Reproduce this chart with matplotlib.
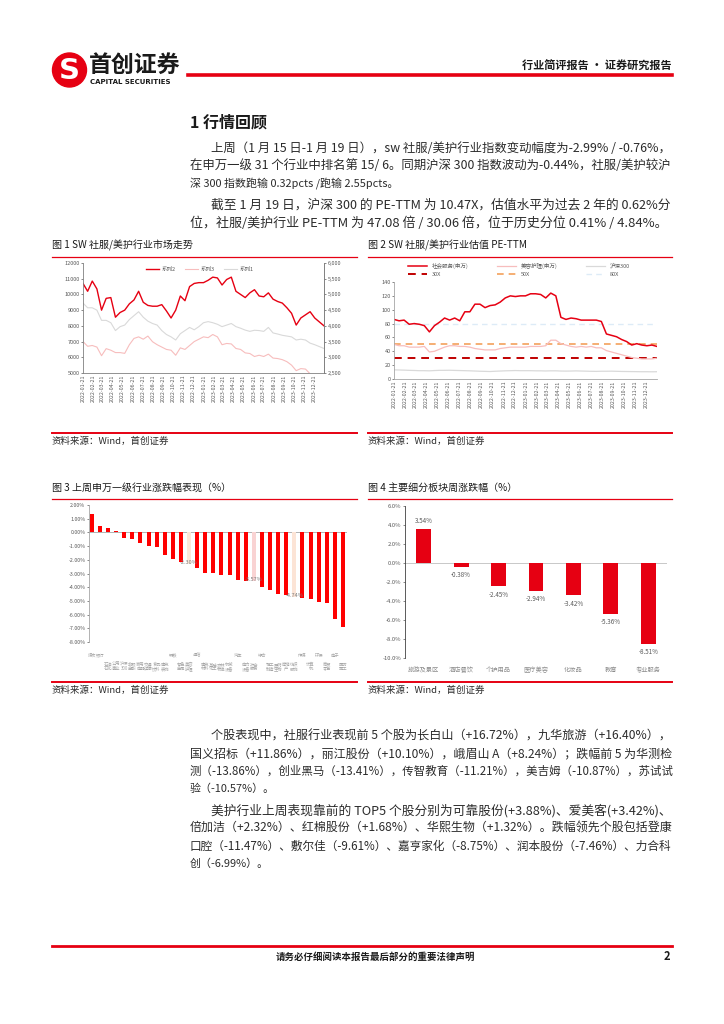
import numpy as np
import pandas as pd
import matplotlib
matplotlib.use('Agg')
import matplotlib.pyplot as plt
from matplotlib.lines import Line2D
from matplotlib.patches import Ellipse
from matplotlib.ticker import FuncFormatter

plt.rcParams['font.family'] = ['Noto Sans CJK SC', 'DejaVu Sans']
plt.rcParams['axes.unicode_minus'] = False

# ---------------- data ----------------
# fig 1: index trend, biweekly readings 2022-01-21 .. 2024-01-19
idx_s2 = [10700, 10200, 10850, 10350, 9000, 9750, 9800, 8550, 8850, 9000,
          9400, 9650, 10200, 9500, 9300, 9250, 9250, 9350, 8950, 8500,
          9000, 9900, 9600, 10500, 10700, 10750, 10750, 10900, 11100, 11050,
          10600, 10950, 11100, 10200, 10000, 9800, 10100, 10300, 9900, 9850,
          10100, 9700, 9550, 9450, 9150, 8800, 8050, 8500, 8700, 8900,
          8500, 8250, 8000]
idx_s1 = [9450, 9150, 9150, 9000, 8350, 8350, 8200, 7700, 7950, 8050,
          8400, 8650, 8900, 8550, 8300, 8150, 8050, 7700, 7450, 7300,
          7100, 7500, 7700, 7900, 7750, 7950, 8200, 8270, 8200, 8100,
          7950, 8050, 8150, 7950, 7850, 7730, 7650, 7720, 7700, 7650,
          7900, 7550, 7480, 7400, 7350, 7300, 7100, 7150, 7100, 6900,
          6800, 6680, 6560]
idx_s3 = [7000, 6700, 6750, 6650, 6100, 6550, 6450, 6300, 6300, 6250,
          6800, 7200, 7300, 7150, 7350, 6990, 6800, 6650, 6500, 6450,
          6130, 6600, 6500, 6750, 7000, 7150, 7300, 7250, 7450, 7300,
          6800, 6880, 6850, 6560, 6500, 6280, 6240, 6050, 6130, 6050,
          6200, 5950, 5920, 5850, 5720, 5500, 5150, 5280, 5250, 4950,
          4700, 4530, 4420]

# fig 2: PE-TTM
pe_svc = [86, 84, 85, 79, 80, 79, 77, 68, 77, 82,
          88, 85, 88, 84, 97, 97, 108, 108, 103, 106,
          107, 111, 117, 120, 119, 120, 120, 123, 123, 122,
          117, 124, 120, 89, 86, 88, 87, 85, 85, 85,
          85, 83, 65, 63, 61, 57, 54, 49, 51, 49,
          48, 49, 47]
pe_beauty = [50, 48, 48, 46, 46, 46, 47, 39, 40, 43,
             46, 48, 48, 47, 47, 46, 44, 43, 42, 42,
             42, 44, 45, 46, 46, 46, 46, 47, 47, 47,
             48, 56, 56, 51, 49, 47, 46, 47, 46, 47,
             45, 45, 41, 39, 37, 35, 33, 31, 30, 29,
             29, 29, 30]
pe_hs300 = [13.2, 13.0, 12.8, 12.5, 12.3, 12.0, 12.0, 11.8, 12.2, 12.5,
            12.5, 12.6, 12.4, 12.2, 12.0, 11.8, 11.5, 11.2, 11.0, 10.8,
            11.2, 11.5, 11.8, 12.0, 12.2, 12.0, 12.0, 12.0, 11.8, 11.8,
            11.6, 11.8, 11.8, 11.5, 11.4, 11.5, 11.7, 11.5, 11.3, 11.1,
            11.0, 11.2, 11.2, 11.3, 11.1, 10.9, 10.8, 10.7, 10.6, 10.5,
            10.5, 10.4, 10.5]
pe_levels = [30, 50, 80]
pe_level_labels = ['30X', '50X', '80X']

# fig 3: SW level-1 industries weekly change (%)
ind_names = ['煤炭', '银行', '石油石化', '公用事业', '沪深300', '非银金融', '家用电器',
             '交通运输', '食品饮料', '建筑装饰', '钢铁', '有色金属', '美容护理', '通信',
             '建筑材料', '基础化工', '农林牧渔', '机械设备', '汽车', '电力设备', '社会服务',
             '综合', '轻工制造', '医药生物', '房地产', '纺织服饰', '传媒', '计算机',
             '环保', '商贸零售', '电子', '国防军工']
ind_chg = [1.34, 0.44, 0.29, 0.07, -0.44, -0.51, -0.78, -1.02, -1.07, -1.63,
           -1.95, -2.17, -2.30, -2.59, -2.98, -2.98, -3.12, -3.12, -3.44, -3.54,
           -3.57, -3.98, -4.24, -4.51, -4.54, -4.74, -4.80, -4.85, -5.10, -5.12,
           -6.34, -6.88]
ind_marked = ['美容护理', '社会服务', '纺织服饰']

# fig 4: sub-sector weekly change (%)
sub_names = ['旅游及景区', '酒店餐饮', '个护用品', '医疗美容', '化妆品', '教育', '专业服务']
sub_chg = [3.54, -0.38, -2.45, -2.94, -3.42, -5.36, -8.51]

# ---------------- page ----------------
W, H = 724, 1024
RED = '#E60012'
TXT = '#2b2b2b'
TICK = '#595959'

fig = plt.figure(figsize=(W / 100, H / 100), dpi=100)
renderer = fig.canvas.get_renderer()


def rect(x0, y0, x1, y1):
    return [x0 / W, 1 - y1 / H, (x1 - x0) / W, (y1 - y0) / H]


def put(x, y, s, **kw):
    kw.setdefault('va', 'center')
    return fig.text(x / W, 1 - y / H, s, **kw)


def hline(x0, x1, y, color=RED, lw=1.0):
    fig.add_artist(Line2D([x0 / W, x1 / W], [1 - y / H, 1 - y / H], color=color, lw=lw))


def body(x0, y, s, x1=None, size=7.9):
    # stretch justified lines to the right margin
    t = put(x0, y, s, fontsize=size, color=TXT)
    if x1 is not None:
        w = t.get_window_extent(renderer).width
        t.set_fontsize(size * (x1 - x0) / w)
    return t


# header
fig.add_artist(Ellipse((69.5 / W, 1 - 70 / H), 34 / W, 34 / H, color=RED))
put(69.5, 71, 'S', ha='center', color='white', fontsize=21, fontweight='bold', family='DejaVu Sans')
put(89, 65, '首创证券', ha='left', fontsize=16.5, fontweight='bold', color='#1a1a1a')
put(90, 82, 'CAPITAL SECURITIES', ha='left', fontsize=5, fontweight='bold', color='#1a1a1a',
    family='DejaVu Sans')
hline(188, 672, 75, RED, 2.6)
put(672, 66, '行业简评报告 · 证券研究报告', ha='right', fontsize=8, fontweight='bold', color='#1a1a1a')

# section text
put(190, 122, '1 行情回顾', ha='left', fontsize=11.5, fontweight='bold', color='#1a1a1a')
IND = 211
body(IND, 148, '上周（1 月 15 日-1 月 19 日），sw 社服/美护行业指数变动幅度为-2.99% / -0.76%，', 672)
body(190, 165.5, '在申万一级 31 个行业中排名第 15/ 6。同期沪深 300 指数波动为-0.44%，社服/美护较沪', 672)
body(190, 183, '深 300 指数跑输 0.32pcts /跑输 2.55pcts。')
body(IND, 205.5, '截至 1 月 19 日，沪深 300 的 PE-TTM 为 10.47X，估值水平为过去 2 年的 0.62%分', 672)
body(190, 223, '位，社服/美护行业 PE-TTM 为 47.08 倍 / 30.06 倍，位于历史分位 0.41% / 4.84%。', 668)

# figure frames
for x0, x1, title in [(52, 357, '图 1 SW 社服/美护行业市场走势'),
                      (368, 672, '图 2 SW 社服/美护行业估值 PE-TTM')]:
    put(x0, 245, title, ha='left', fontsize=7.2, color='#1a1a1a')
    hline(x0, x1, 257, RED, 0.9)
    hline(x0, x1, 433, RED, 1.4)
    put(x0, 441, '资料来源：Wind，首创证券', ha='left', fontsize=6.8, color=TXT, style='italic')
for x0, x1, title in [(52, 357, '图 3 上周申万一级行业涨跌幅表现（%）'),
                      (368, 672, '图 4 主要细分板块周涨跌幅（%）')]:
    put(x0, 488, title, ha='left', fontsize=7.2, color='#1a1a1a')
    hline(x0, x1, 499, RED, 0.9)
    hline(x0, x1, 682, RED, 1.4)
    put(x0, 690, '资料来源：Wind，首创证券', ha='left', fontsize=6.8, color=TXT, style='italic')

dates = pd.date_range('2022-01-21', periods=len(idx_s2), freq='14D')
month_ticks = pd.date_range('2022-01-01', periods=24, freq='MS') + pd.Timedelta(days=20)
month_labels = [d.strftime('%Y-%m-%d') for d in month_ticks]


def style_ax(ax, spines=('left', 'bottom'), color='#A6A6A6'):
    for s in ['left', 'right', 'top', 'bottom']:
        ax.spines[s].set_visible(s in spines)
        ax.spines[s].set_color(color)
        ax.spines[s].set_linewidth(0.6)
    ax.tick_params(labelsize=4, colors=TICK, length=1.5, width=0.5, pad=1)
    ax.patch.set_alpha(0)


# ---- chart 1 ----
ax1 = fig.add_axes(rect(83, 263, 324, 373))
l1, = ax1.plot(dates, idx_s1, color='#D9D9D9', lw=0.8)
l3, = ax1.plot(dates, idx_s3, color='#F7BDBD', lw=0.8)
l2, = ax1.plot(dates, idx_s2, color=RED, lw=1.0)
ax1.set_ylim(5000, 12000)
ax1.set_yticks(range(5000, 12001, 1000))
ax1.set_xlim(dates[0], dates[-1])
ax1.set_xticks(month_ticks)
ax1.set_xticklabels(month_labels, rotation=90)
style_ax(ax1, ('left', 'bottom', 'right'), '#808080')
ax1.tick_params(axis='x', labelsize=3.8, length=0)
ax1r = ax1.twinx()
ax1r.set_ylim(2500, 6000)
ax1r.set_yticks(range(2500, 6001, 500))
ax1r.yaxis.set_major_formatter(FuncFormatter(lambda v, p: f'{v:,.0f}'))
style_ax(ax1r, ('right',), '#808080')
ax1.legend([l2, l3, l1], ['系列2', '系列3', '系列1'], loc='upper center',
           bbox_to_anchor=(0.485, 1.01), ncol=3, frameon=False, fontsize=4,
           handlelength=2.4, handletextpad=0.5, columnspacing=1.6, labelcolor=TICK)

# ---- chart 2 ----
ax2 = fig.add_axes(rect(394, 282, 657, 379))
ax2.plot(dates, pe_hs300, color='#D9D9D9', lw=0.9)
ax2.plot(dates, pe_beauty, color='#F7BDBD', lw=0.9)
ax2.plot(dates, pe_svc, color=RED, lw=1.1)
lvl_style = [('#C00000', 1.4), ('#F4A15B', 1.2), ('#DDEBF7', 1.0)]
for lv, (c, lw) in zip(pe_levels, lvl_style):
    ax2.axhline(lv, color=c, lw=lw, ls=(0, (4, 3)), zorder=1)
ax2.set_ylim(0, 140)
ax2.set_yticks(range(0, 141, 20))
ax2.set_xlim(dates[0], dates[-1])
ax2.set_xticks(month_ticks)
ax2.set_xticklabels(month_labels, rotation=90)
style_ax(ax2, ('left', 'bottom'), '#A6A6A6')
ax2.tick_params(axis='x', labelsize=3.8, length=0)
hd = [Line2D([], [], color=RED, lw=1.1),
      Line2D([], [], color=lvl_style[0][0], lw=1.4, ls=(0, (4, 3))),
      Line2D([], [], color='#F7BDBD', lw=0.9),
      Line2D([], [], color=lvl_style[1][0], lw=1.2, ls=(0, (4, 3))),
      Line2D([], [], color='#D9D9D9', lw=0.9),
      Line2D([], [], color=lvl_style[2][0], lw=1.0, ls=(0, (4, 3)))]
lb = ['社会服务(申万)', pe_level_labels[0], '美容护理(申万)', pe_level_labels[1],
      '沪深300', pe_level_labels[2]]
ax2.legend(hd, lb, loc='lower center', bbox_to_anchor=(0.475, 1.0), ncol=3, frameon=False,
           fontsize=4, handlelength=3.4, handletextpad=0.8, columnspacing=5.2,
           labelcolor=TICK, labelspacing=0.6)

# ---- chart 3 ----
ax3 = fig.add_axes(rect(89, 505, 347, 642))
pos3 = np.arange(len(ind_chg))
mark_col = {'美容护理': '#FDE9D9', '社会服务': '#F9D3D3', '纺织服饰': '#FCE4D6'}
cols3 = [mark_col.get(n, '#FF0000') for n in ind_names]
ax3.bar(pos3, ind_chg, width=0.5, color=cols3, zorder=2)
ax3.axhline(0, color='#A6A6A6', lw=0.6, zorder=1)
ax3.set_xlim(-0.35, len(ind_chg) - 0.5)
ax3.set_ylim(-8, 2)
ax3.set_yticks(range(-8, 3))
ax3.yaxis.set_major_formatter(FuncFormatter(lambda v, p: f'{v:.2f}%'))
ax3.set_xticks([])
style_ax(ax3, ('left',), '#A6A6A6')
ax3.tick_params(axis='y', labelsize=3.8)
for i, (n, v) in enumerate(zip(ind_names, ind_chg)):
    if n in ind_marked:
        ax3.text(i, v + 0.12, f'{v:.2f}%', ha='center', va='center', fontsize=4, color='#7F7F7F')
    if len(n) <= 2:
        ax3.text(i, -0.095, n, transform=ax3.get_xaxis_transform(), ha='center', va='center',
                 fontsize=3.1, color='#A6A6A6')
    else:
        ax3.text(i, -0.18, n[:2] + '\n' + n[2:], transform=ax3.get_xaxis_transform(),
                 ha='center', va='center', fontsize=3.1, color='#A6A6A6', linespacing=0.9)

# ---- chart 4 ----
ax4 = fig.add_axes(rect(405, 506, 667, 658))
pos4 = np.arange(len(sub_chg))
ax4.bar(pos4, sub_chg, width=0.4, color=RED, zorder=2)
ax4.axhline(0, color='#BFBFBF', lw=0.6, zorder=1)
ax4.set_xlim(-0.5, len(sub_chg) - 0.5)
ax4.set_ylim(-10, 6)
ax4.set_yticks(range(-10, 7, 2))
ax4.yaxis.set_major_formatter(FuncFormatter(lambda v, p: f'{v:.1f}%'))
ax4.set_xticks(pos4)
ax4.set_xticklabels(sub_names)
style_ax(ax4, ('left',), '#404040')
ax4.tick_params(axis='y', labelsize=4.2)
ax4.tick_params(axis='x', labelsize=4.5, length=0, pad=6, colors='#8C8C8C')
for i, v in enumerate(sub_chg):
    if v >= 0:
        ax4.text(i, v + 0.45, f'{v:.2f}%', ha='center', va='bottom', fontsize=4.5, color='#595959')
    else:
        ax4.text(i, v - 0.45, f'{v:.2f}%', ha='center', va='top', fontsize=4.5, color='#595959')

# lower text
body(IND, 736, '个股表现中，社服行业表现前 5 个股为长白山（+16.72%），九华旅游（+16.40%），', 672)
body(190, 753.5, '国义招标（+11.86%），丽江股份（+10.10%），峨眉山 A（+8.24%）；跌幅前 5 为华测检', 672)
body(190, 771, '测（-13.86%），创业黑马（-13.41%），传智教育（-11.21%），美吉姆（-10.87%），苏试试', 672)
body(190, 788.5, '验（-10.57%）。')
body(IND, 811, '美护行业上周表现靠前的 TOP5 个股分别为可靠股份(+3.88%)、爱美客(+3.42%)、', 672)
body(190, 828.5, '倍加洁（+2.32%）、红棉股份（+1.68%）、华熙生物（+1.32%）。跌幅领先个股包括登康', 672)
body(190, 846, '口腔（-11.47%）、敷尔佳（-9.61%）、嘉亨家化（-8.75%）、润本股份（-7.46%）、力合科', 672)
body(190, 863.5, '创（-6.99%）。')

# footer
hline(52, 672, 946, RED, 2.0)
put(375, 957, '请务必仔细阅读本报告最后部分的重要法律声明', ha='center', fontsize=6.8,
    fontweight='bold', color='#1a1a1a')
put(670, 957, '2', ha='right', fontsize=8, fontweight='bold', color='#1a1a1a')

fig.savefig('out.png', dpi=100)
